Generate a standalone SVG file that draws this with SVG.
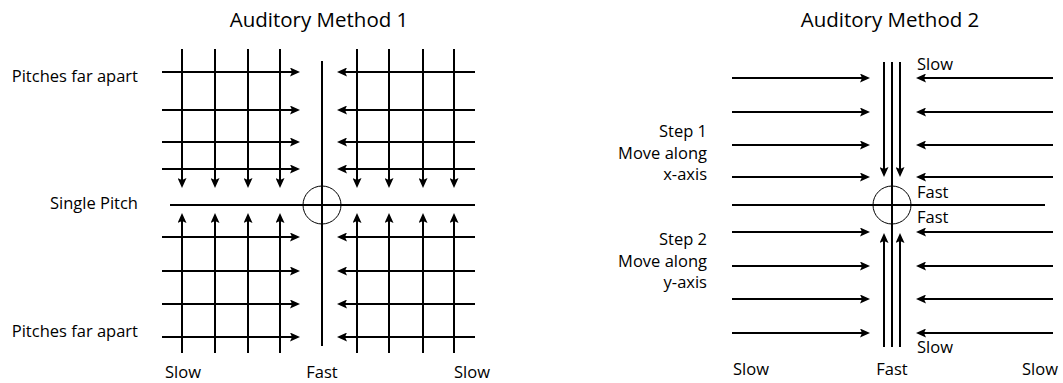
<svg xmlns="http://www.w3.org/2000/svg" width="1063" height="383" viewBox="0 0 1063 383">
<defs>
<marker id="ah" viewBox="0 0 10 9" refX="5" refY="4.5" markerWidth="10" markerHeight="9" markerUnits="userSpaceOnUse" orient="auto">
<path d="M0,0 L10,4.5 L0,9 L2,4.5 z" fill="#000"/>
</marker>
</defs>
<style>
text{font-family:"Open Sans","Liberation Sans",sans-serif;fill:#000;}
.t{font-size:20.5px;text-anchor:middle;}
.l{font-size:16.5px;}
.r{text-anchor:end;}
.m{text-anchor:middle;}
.a{stroke:#000;stroke-width:2;fill:none;marker-end:url(#ah);}
.ln{stroke:#000;stroke-width:2;fill:none;}
.c{stroke:#000;stroke-width:1;fill:none;}
</style>
<rect width="1063" height="383" fill="#fff"/>
<g id="labels1">
<text class="t" x="319" y="27">Auditory Method 1</text>
<text class="l r" x="138" y="82">Pitches far apart</text>
<text class="l r" x="138" y="209">Single Pitch</text>
<text class="l r" x="138" y="337">Pitches far apart</text>
<text class="l" x="165" y="378">Slow</text>
<text class="l m" x="322" y="378">Fast</text>
<text class="l m" x="472" y="378">Slow</text>
</g>
<g id="labels2">
<text class="t" x="890" y="27">Auditory Method 2</text>
<text class="l r" x="707" y="137">Step 1</text>
<text class="l r" x="707" y="159">Move along</text>
<text class="l r" x="707" y="180">x-axis</text>
<text class="l r" x="707" y="245">Step 2</text>
<text class="l r" x="707" y="267">Move along</text>
<text class="l r" x="707" y="288">y-axis</text>
<text class="l" x="917" y="70">Slow</text>
<text class="l" x="917" y="198">Fast</text>
<text class="l" x="917" y="223">Fast</text>
<text class="l" x="917" y="353">Slow</text>
<text class="l" x="733" y="375">Slow</text>
<text class="l m" x="892" y="375">Fast</text>
<text class="l m" x="1040" y="375">Slow</text>
</g>
<g id="connectors">
<g id="m1-axes">
<line class="ln" x1="322" y1="61" x2="322" y2="346"/>
<line class="ln" x1="170" y1="205" x2="475" y2="205"/>
<circle class="c" cx="322" cy="205" r="19"/>
</g>
<g id="m1-topleft">
<line class="a" x1="162" y1="72" x2="295" y2="72"/>
<line class="a" x1="162" y1="110" x2="295" y2="110"/>
<line class="a" x1="162" y1="142" x2="295" y2="142"/>
<line class="a" x1="162" y1="169" x2="295" y2="169"/>
<line class="a" x1="182" y1="49" x2="182" y2="183"/>
<line class="a" x1="215" y1="49" x2="215" y2="183"/>
<line class="a" x1="248" y1="49" x2="248" y2="183"/>
<line class="a" x1="280" y1="49" x2="280" y2="183"/>
</g>
<g id="m1-topright">
<line class="a" x1="475" y1="72" x2="342" y2="72"/>
<line class="a" x1="475" y1="110" x2="342" y2="110"/>
<line class="a" x1="475" y1="142" x2="342" y2="142"/>
<line class="a" x1="475" y1="169" x2="342" y2="169"/>
<line class="a" x1="357" y1="49" x2="357" y2="183"/>
<line class="a" x1="389" y1="49" x2="389" y2="183"/>
<line class="a" x1="423" y1="49" x2="423" y2="183"/>
<line class="a" x1="454" y1="49" x2="454" y2="183"/>
</g>
<g id="m1-bottomleft">
<line class="a" x1="162" y1="237" x2="295" y2="237"/>
<line class="a" x1="162" y1="271" x2="295" y2="271"/>
<line class="a" x1="162" y1="304" x2="295" y2="304"/>
<line class="a" x1="162" y1="337" x2="295" y2="337"/>
<line class="a" x1="182" y1="353" x2="182" y2="218"/>
<line class="a" x1="215" y1="353" x2="215" y2="218"/>
<line class="a" x1="248" y1="353" x2="248" y2="218"/>
<line class="a" x1="280" y1="353" x2="280" y2="218"/>
</g>
<g id="m1-bottomright">
<line class="a" x1="475" y1="237" x2="342" y2="237"/>
<line class="a" x1="475" y1="271" x2="342" y2="271"/>
<line class="a" x1="475" y1="304" x2="342" y2="304"/>
<line class="a" x1="475" y1="337" x2="342" y2="337"/>
<line class="a" x1="357" y1="353" x2="357" y2="218"/>
<line class="a" x1="389" y1="353" x2="389" y2="218"/>
<line class="a" x1="423" y1="353" x2="423" y2="218"/>
<line class="a" x1="454" y1="353" x2="454" y2="218"/>
</g>
<g id="m2-axes">
<line class="ln" x1="732" y1="205" x2="1045" y2="205"/>
<line class="ln" x1="892" y1="62" x2="892" y2="347"/>
<circle class="c" cx="892" cy="205" r="19"/>
<line class="a" x1="884" y1="62" x2="884" y2="172"/>
<line class="a" x1="900" y1="62" x2="900" y2="172"/>
<line class="a" x1="884" y1="347" x2="884" y2="238"/>
<line class="a" x1="900" y1="347" x2="900" y2="238"/>
</g>
<g id="m2-left">
<line class="a" x1="732" y1="78" x2="865" y2="78"/>
<line class="a" x1="732" y1="112" x2="865" y2="112"/>
<line class="a" x1="732" y1="145" x2="865" y2="145"/>
<line class="a" x1="732" y1="177" x2="865" y2="177"/>
<line class="a" x1="732" y1="232" x2="865" y2="232"/>
<line class="a" x1="732" y1="266" x2="865" y2="266"/>
<line class="a" x1="732" y1="299" x2="865" y2="299"/>
<line class="a" x1="732" y1="333" x2="865" y2="333"/>
</g>
<g id="m2-right">
<line class="a" x1="1053" y1="78" x2="921" y2="78"/>
<line class="a" x1="1053" y1="112" x2="921" y2="112"/>
<line class="a" x1="1053" y1="145" x2="921" y2="145"/>
<line class="a" x1="1053" y1="177" x2="921" y2="177"/>
<line class="a" x1="1053" y1="232" x2="921" y2="232"/>
<line class="a" x1="1053" y1="266" x2="921" y2="266"/>
<line class="a" x1="1053" y1="299" x2="921" y2="299"/>
<line class="a" x1="1053" y1="333" x2="921" y2="333"/>
</g>
</g>
</svg>
